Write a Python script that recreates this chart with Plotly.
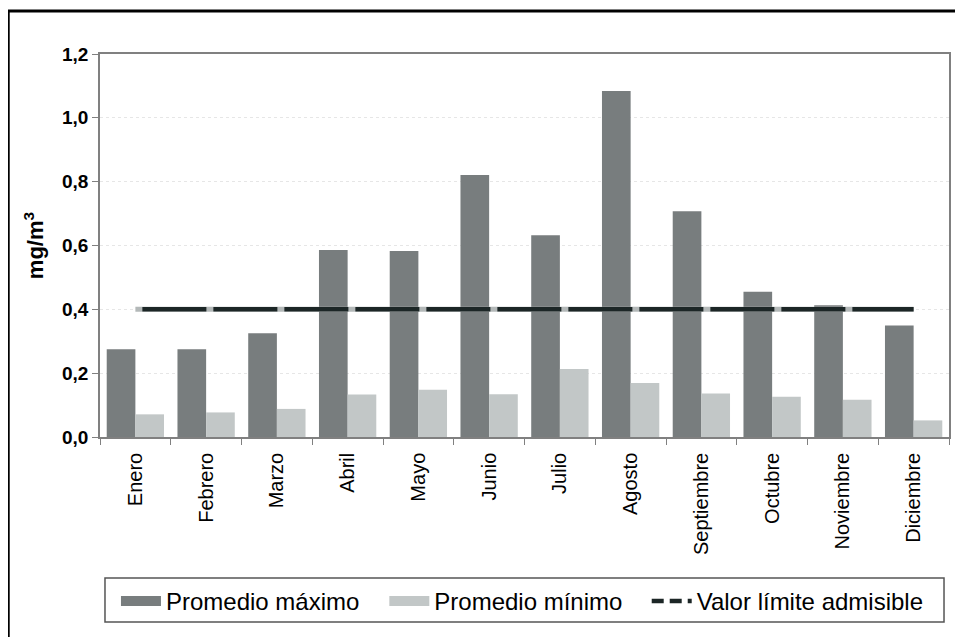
import plotly.graph_objects as go

meses = ["Enero", "Febrero", "Marzo", "Abril", "Mayo", "Junio", "Julio",
         "Agosto", "Septiembre", "Octubre", "Noviembre", "Diciembre"]
promedio_maximo = [0.275, 0.275, 0.325, 0.586, 0.583, 0.821, 0.632,
                   1.084, 0.707, 0.455, 0.413, 0.349]
promedio_minimo = [0.071, 0.077, 0.088, 0.133, 0.148, 0.134, 0.213,
                   0.169, 0.136, 0.126, 0.117, 0.052]
valor_limite = [0.4] * 12

# The page body adds an 8px offset; the figure is laid out to compensate.
OFF = 8
W, H = 963 - OFF, 637 - OFF
L, R, T, B = 100, 951, 54, 437  # plot area in screen pixels

def px_x(p):
    return (p - L) / (R - L)

def px_y(p):
    return (B - p) / (B - T)

FONT = "Arial, Liberation Sans, Helvetica, sans-serif"
DARK, LIGHT = "#787d7e", "#c2c7c7"

fig = go.Figure()
fig.add_trace(go.Bar(x=meses, y=promedio_maximo, name="Promedio máximo",
                     marker=dict(color=DARK, line=dict(width=0)),
                     showlegend=False))
fig.add_trace(go.Bar(x=meses, y=promedio_minimo, name="Promedio mínimo",
                     marker=dict(color=LIGHT, line=dict(width=0)),
                     showlegend=False))
fig.add_trace(go.Scatter(x=meses, y=valor_limite, mode="lines", showlegend=False,
                         hoverinfo="skip",
                         line=dict(color="#b3b8b8", width=5)))
fig.add_trace(go.Scatter(x=meses, y=valor_limite, mode="lines", showlegend=False,
                         name="Valor límite admisible",
                         line=dict(color="#1c2626", width=4.5,
                                   dash="0px,7px,64px,0px")))
# legend-only entries (wide swatches like the original)
fig.add_trace(go.Scatter(x=[None], y=[None], mode="lines", name="Promedio máximo",
                         legend="legend", line=dict(color=DARK, width=15)))
fig.add_trace(go.Scatter(x=[None], y=[None], mode="lines", name="Promedio mínimo",
                         legend="legend2", line=dict(color=LIGHT, width=15)))
fig.add_trace(go.Scatter(x=[None], y=[None], mode="lines",
                         name="Valor límite admisible", legend="legend3",
                         line=dict(color="#1c2626", width=4.5, dash="12px,6px")))

leg_common = dict(orientation="h", xanchor="left", yanchor="top",
                  y=px_y(579), borderwidth=0, bgcolor="rgba(0,0,0,0)",
                  font=dict(size=24, family=FONT, color="black"),
                  itemwidth=40)

fig.update_layout(
    width=W, height=H,
    margin=dict(l=L - OFF, r=(963 - R), t=T - OFF, b=(637 - B), pad=0),
    paper_bgcolor="white", plot_bgcolor="white",
    separators=",.",
    barmode="group", bargap=0.19, bargroupgap=0,
    font=dict(family=FONT, color="black"),
    xaxis=dict(
        showline=True, linecolor="#808080", linewidth=1.5, mirror=True,
        ticks="outside", ticklen=6, tickcolor="#808080", tickson="boundaries",
        tickangle=-90, tickfont=dict(size=20, family=FONT, color="black"),
        ticklabelstandoff=6,
        showgrid=False,
    ),
    yaxis=dict(
        range=[0, 1.2], dtick=0.2, tickformat=".1f",
        showline=True, linecolor="#808080", linewidth=1.5, mirror=True,
        ticks="outside", ticklen=6, tickcolor="#808080",
        tickfont=dict(size=19, family=FONT, color="black", weight="bold"),
        showgrid=True, gridcolor="#e6e6e6", griddash="dot", gridwidth=1,
        zeroline=False,
        title=dict(text="<b>mg/m<sup>3</sup></b>", standoff=12,
                   font=dict(size=22, family=FONT, color="black")),
    ),
    legend=dict(leg_common, x=px_x(116)),
    legend2=dict(leg_common, x=px_x(385)),
    legend3=dict(leg_common, x=px_x(648)),
    shapes=[
        dict(type="line", xref="paper", yref="paper",
             x0=px_x(7), x1=px_x(975), y0=px_y(11), y1=px_y(11),
             line=dict(color="black", width=3)),
        dict(type="line", xref="paper", yref="paper",
             x0=px_x(8), x1=px_x(8), y0=px_y(10), y1=px_y(650),
             line=dict(color="black", width=3)),
        dict(type="rect", xref="paper", yref="paper",
             x0=px_x(105), x1=px_x(946), y0=px_y(578), y1=px_y(622),
             line=dict(color="#555555", width=1.5), fillcolor="rgba(0,0,0,0)"),
    ],
)

fig.write_html("out.html")
